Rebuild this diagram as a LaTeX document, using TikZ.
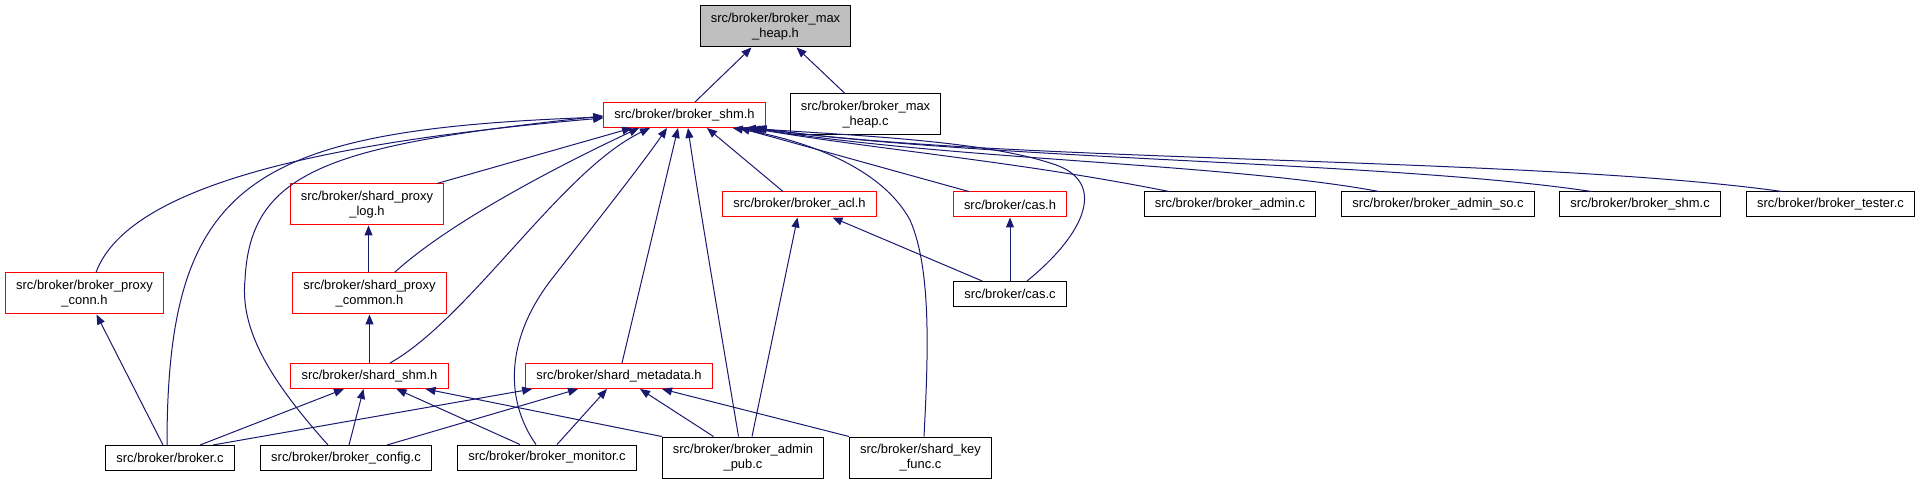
\documentclass[tikz,border=0pt]{standalone}
\usepackage{fontspec}
\newfontfamily\graphfont{Liberation Sans}
\usetikzlibrary{arrows.meta,calc}
\definecolor{edgeblue}{HTML}{191970}
\definecolor{hdrred}{HTML}{FF0000}
\definecolor{selgray}{HTML}{BFBFBF}
\tikzset{
  filebox/.style={draw=black, fill=white, line width=0.75pt, inner xsep=8pt, inner ysep=0pt, minimum height=18.75pt, align=center, font=\graphfont\fontsize{9.7}{11.3}\selectfont},
  hdrbox/.style={filebox, draw=hdrred},
  selbox/.style={filebox, fill=selgray},
  tall/.style={minimum height=30.75pt},
  dep/.style={-{Triangle[length=7.5pt, width=6pt]}, draw=edgeblue, line width=0.75pt}
}

\begin{document}
\begin{tikzpicture}[x=0.75pt,y=-0.75pt]
\useasboundingbox (0,0) rectangle (1922,484);

% Top rows
\node[selbox, tall] (maxheaph) at (775.5,26.5) {src/broker/broker\_max\\\_heap.h};
\node[hdrbox] (shmh) at (684.5,115) {src/broker/broker\_shm.h};
\node[filebox, tall] (maxheapc) at (865.5,114.5) {src/broker/broker\_max\\\_heap.c};

\node[hdrbox, tall] (proxylogh) at (367,204.5) {src/broker/shard\_proxy\\\_log.h};
\node[hdrbox] (aclh) at (799.5,204.5) {src/broker/broker\_acl.h};
\node[hdrbox] (cash) at (1010,204.5) {src/broker/cas.h};
\node[filebox] (adminc) at (1230,204.5) {src/broker/broker\_admin.c};
\node[filebox] (adminsoc) at (1438,204.5) {src/broker/broker\_admin\_so.c};
\node[filebox] (shmc) at (1640,204.5) {src/broker/broker\_shm.c};
\node[filebox] (testerc) at (1830.5,204.5) {src/broker/broker\_tester.c};

% Middle rows
\node[hdrbox, tall] (proxyconnh) at (84.5,293.5) {src/broker/broker\_proxy\\\_conn.h};
\node[hdrbox, tall] (proxycommonh) at (369.5,293.5) {src/broker/shard\_proxy\\\_common.h};
\node[filebox] (casc) at (1010,294) {src/broker/cas.c};
\node[hdrbox] (shardshmh) at (369.5,376) {src/broker/shard\_shm.h};
\node[hdrbox] (metadatah) at (619,376) {src/broker/shard\_metadata.h};

% Bottom row
\node[filebox] (brokerc) at (170,458) {src/broker/broker.c};
\node[filebox] (configc) at (346,458) {src/broker/broker\_config.c};
\node[filebox] (monitorc) at (547,457.5) {src/broker/broker\_monitor.c};
\node[filebox, tall] (adminpubc) at (743,457.5) {src/broker/broker\_admin\\\_pub.c};
\node[filebox, tall] (keyfuncc) at (920.5,457.5) {src/broker/shard\_key\\\_func.c};

% Includes of broker_max_heap.h
\draw[dep] ($(shmh.north)+(10.5,0)$) -- ($(maxheaph.south)+(-24,0)$);
\draw[dep] ($(maxheapc.north)+(-20.5,0)$) -- ($(maxheaph.south)+(21,0)$);

% Includes of broker_shm.h, left side
\draw[dep] ($(proxyconnh.north)+(11.5,0)$) .. controls +(34,-93) and +(-253,22) .. ($(shmh.west)+(0,3)$);
\draw[dep] ($(brokerc.north)+(-3,0)$) .. controls +(0,-265) and +(-353,13) .. ($(shmh.west)+(0,2)$);
\draw[dep] ($(configc.north)+(-18,0)$) .. controls +(-58,-65) and +(-5,50) .. (245,280)
  .. controls +(5,-110) and +(-273,29) .. ($(shmh.west)+(0,1)$);

% Includes of broker_shm.h, below
\draw[dep] ($(proxylogh.north)+(70,0)$) -- ($(shmh.south)+(-52.5,0)$);
\draw[dep] ($(proxycommonh.north)+(25,0)$) .. controls +(60,-55) and +(-60,28) .. ($(shmh.south)+(-45.5,0)$);
\draw[dep] ($(shardshmh.north)+(20.5,0)$) .. controls +(80,-45) and +(-88,42) .. ($(shmh.south)+(-34.5,0)$);
\draw[dep] ($(monitorc.north)+(-11,0)$) .. controls +(-31,-44) and +(-46,60) .. (551,280)
  .. controls +(39,-50) and +(-27,39) .. ($(shmh.south)+(-17.5,0)$);
\draw[dep] ($(metadatah.north)+(3,0)$) -- ($(shmh.south)+(-6.5,0)$);
\draw[dep] ($(adminpubc.north)+(-4.5,0)$) .. controls +(-15,-90) and +(10,70) .. ($(shmh.south)+(3.5,0)$);
\draw[dep] ($(aclh.north)+(-16.5,0)$) -- ($(shmh.south)+(22.5,0)$);

% Includes of broker_shm.h, right side
\draw[dep] ($(keyfuncc.north)+(3.5,0)$) .. controls +(4,-78) and +(22,50) .. (910,220)
  .. controls +(-30,-55) and +(67,11) .. ($(shmh.south east)+(-33,0)$);
\draw[dep] ($(cash.north west)+(16,0)$) -- ($(shmh.south east)+(-26,0)$);
\draw[dep] ($(casc.north)+(17,0)$) .. controls +(58,-47) and +(60,17) .. (1050,163)
  .. controls +(-70,-23) and +(98,7) .. ($(shmh.south east)+(-20,0)$);
\draw[dep] ($(adminc.north)+(-61,0)$) .. controls +(-150,-30) and +(130,22) .. ($(shmh.south east)+(-16,0)$);
\draw[dep] ($(adminsoc.north)+(-59,0)$) .. controls +(-150,-28) and +(200,32) .. ($(shmh.south east)+(-13,0)$);
\draw[dep] ($(shmc.north)+(-48.5,0)$) .. controls +(-200,-30) and +(250,33) .. ($(shmh.south east)+(-11,0)$);
\draw[dep] ($(testerc.north)+(-48.5,0)$) .. controls +(-250,-35) and +(250,35) .. ($(shmh.south east)+(-9,0)$);

% Second level headers
\draw[dep] (casc.north) -- (cash.south);
\draw[dep] ($(casc.north west)+(29,0)$) -- ($(aclh.south)+(33,0)$);
\draw[dep] ($(adminpubc.north)+(9,0)$) -- ($(aclh.south)+(-2,0)$);
\draw[dep] ($(proxycommonh.north)+(-1,0)$) -- ($(proxylogh.south)+(1.5,0)$);
\draw[dep] (shardshmh.north) -- (proxycommonh.south);
\draw[dep] ($(brokerc.north)+(-7,0)$) -- ($(proxyconnh.south)+(12,0)$);

% Includes of shard_shm.h
\draw[dep] ($(brokerc.north)+(30,0)$) -- ($(shardshmh.south)+(-25.5,0)$);
\draw[dep] ($(configc.north)+(3,0)$) -- ($(shardshmh.south)+(-6,0)$);
\draw[dep] ($(monitorc.north)+(-27,0)$) -- ($(shardshmh.south)+(27,0)$);
\draw[dep] (adminpubc.north west) -- ($(shardshmh.south)+(56,0)$);

% Includes of shard_metadata.h
\draw[dep] ($(brokerc.north)+(43,0)$) -- ($(metadatah.south west)+(7,0)$);
\draw[dep] ($(configc.north)+(41,0)$) -- ($(metadatah.south)+(-41,0)$);
\draw[dep] ($(monitorc.north)+(10,0)$) -- ($(metadatah.south)+(-12,0)$);
\draw[dep] ($(adminpubc.north)+(-29.5,0)$) -- ($(metadatah.south)+(21,0)$);
\draw[dep] (keyfuncc.north west) -- ($(metadatah.south)+(43,0)$);
\end{tikzpicture}
\end{document}
